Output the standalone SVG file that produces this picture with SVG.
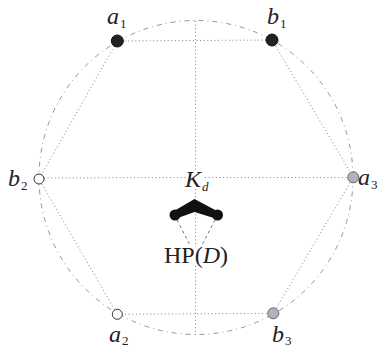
<svg xmlns="http://www.w3.org/2000/svg" width="386" height="349" viewBox="0 0 386 349">
<style>
.circ{fill:none;stroke:#8a8a8a;stroke-width:0.9;stroke-dasharray:5 4 1 4}
.dot{fill:none;stroke:#808080;stroke-width:1;stroke-dasharray:1 2.6}
.dash{fill:none;stroke:#666;stroke-width:0.9;stroke-dasharray:3 3}
.lbl{font-family:"Liberation Serif",serif;font-style:italic;font-size:24px;fill:#222}
.sub{font-family:"Liberation Serif",serif;font-size:13px;fill:#222}
.hp{font-family:"Liberation Serif",serif;font-size:24px;fill:#222}
.black{fill:#222;stroke:#111;stroke-width:1}
.open{fill:#fff;stroke:#333;stroke-width:1}
.lav{fill:#b6aec4;stroke:#666;stroke-width:1}
</style>
<g id="connectors">
  <circle class="circ" cx="196" cy="177.5" r="157"/>
  <line class="dot" x1="195.5" y1="21" x2="195.5" y2="172"/>
  <line class="dot" x1="195.5" y1="189" x2="195.5" y2="247"/>
  <line class="dot" x1="195.5" y1="266" x2="195.5" y2="335"/>
  <line class="dot" x1="44" y1="178" x2="186" y2="177.5"/>
  <line class="dot" x1="205" y1="177.5" x2="348" y2="177.5"/>
  <polyline class="dot" points="117.3,41 272,40 353.3,177.3 273.3,313.3 117.3,314.3 39,179 117.3,41"/>
  <line class="dash" x1="177" y1="220" x2="190" y2="245"/>
  <line class="dash" x1="215" y1="220" x2="202" y2="245"/>
</g>
<g id="a1"><circle class="black" cx="117.3" cy="41" r="6"/><text class="lbl" x="107" y="24">a</text><text class="sub" x="120" y="28">1</text></g>
<g id="b1"><circle class="black" cx="272" cy="40" r="6"/><text class="lbl" x="267" y="24">b</text><text class="sub" x="280" y="28">1</text></g>
<g id="b2"><circle class="open" cx="39" cy="179" r="5"/><text class="lbl" x="8" y="186">b</text><text class="sub" x="21" y="190">2</text></g>
<g id="a3"><circle class="lav" cx="353.3" cy="177.3" r="5.5"/><text class="lbl" x="358" y="185">a</text><text class="sub" x="371" y="189">3</text></g>
<g id="a2"><circle class="open" cx="117.3" cy="314.3" r="5"/><text class="lbl" x="109" y="342">a</text><text class="sub" x="122" y="345">2</text></g>
<g id="b3"><circle class="lav" cx="273.3" cy="313.3" r="5.5"/><text class="lbl" x="272" y="342">b</text><text class="sub" x="285" y="345">3</text></g>
<g id="Kd"><text class="lbl" x="185" y="187">K</text><text class="sub" x="202" y="191" font-style="italic">d</text></g>
<g id="HPD">
  <polygon fill="#111" points="174,211 194.5,199 217,211 217,219 194.5,212 175,219"/>
  <circle fill="#111" cx="175" cy="215" r="5.5"/>
  <circle fill="#111" cx="217.5" cy="215" r="5.5"/>
  <text class="hp" x="196" y="263" text-anchor="middle">HP(<tspan font-style="italic">D</tspan>)</text>
</g>
</svg>
